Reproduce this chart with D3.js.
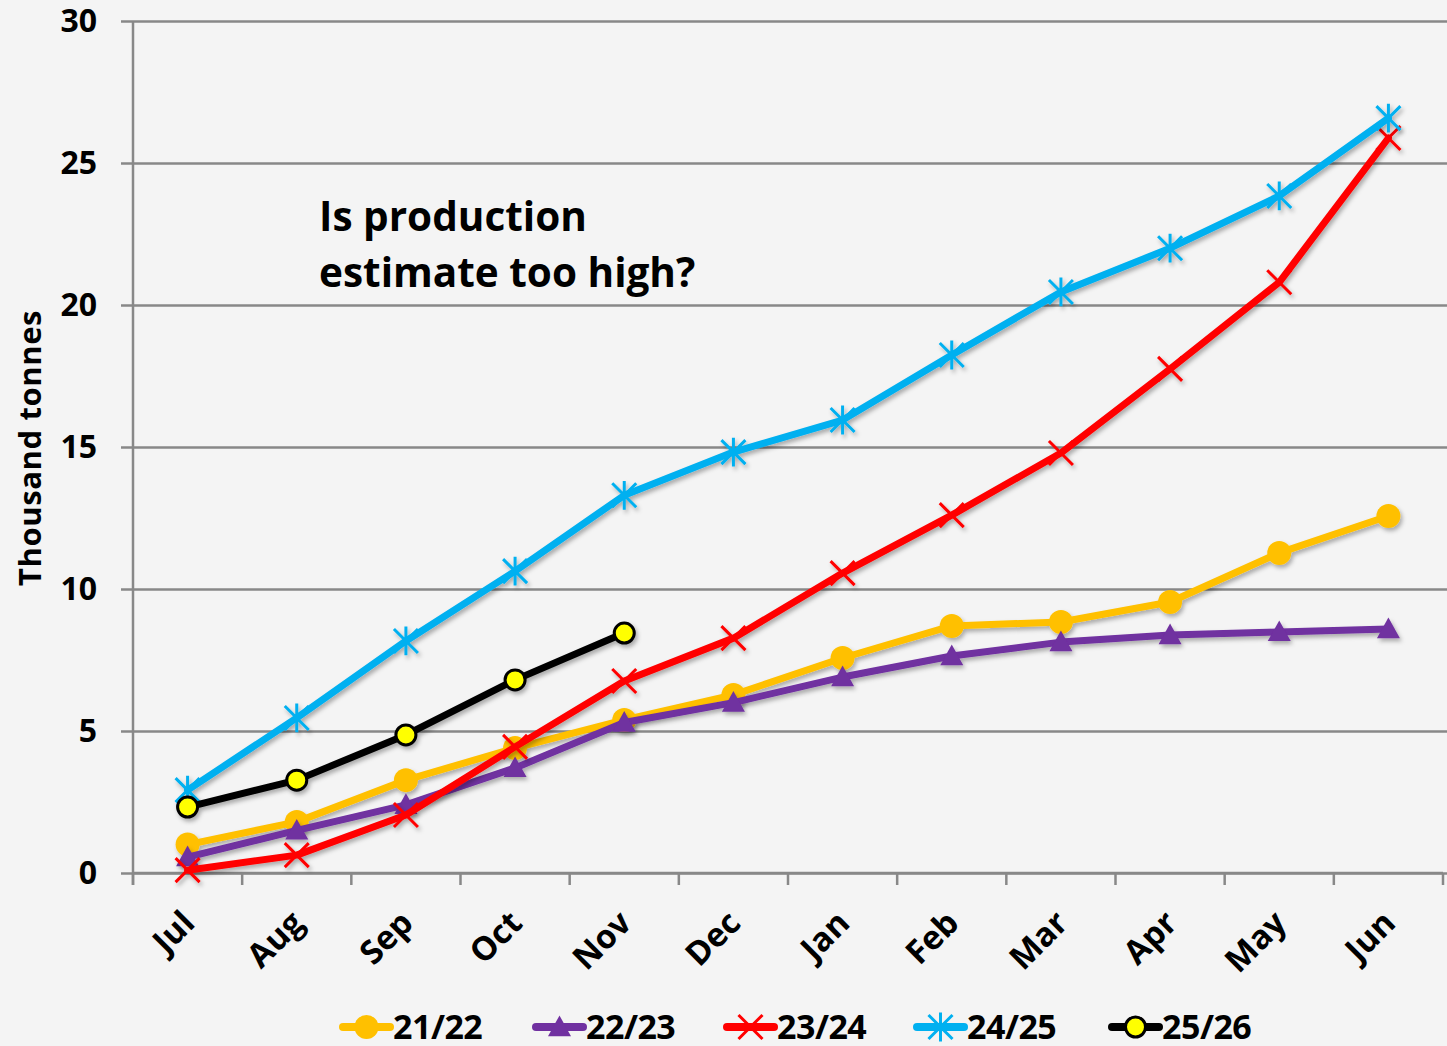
<!DOCTYPE html>
<html>
<head>
<meta charset="utf-8">
<script src="https://cdn.jsdelivr.net/npm/d3@7"></script>
<style>
  html, body { margin: 0; padding: 0; background: #f4f4f4; }
  svg { display: block; }
</style>
</head>
<body>
<svg id="chart" width="1447" height="1046"></svg>
<script>
// Monthly cumulative production (thousand tonnes) by season
const months = ["Jul","Aug","Sep","Oct","Nov","Dec","Jan","Feb","Mar","Apr","May","Jun"];
const yTicks = [0, 5, 10, 15, 20, 25, 30];
const seasons = ["21/22", "22/23", "23/24", "24/25", "25/26"];

const s2122 = [1.0, 1.8, 3.27, 4.4, 5.39, 6.27, 7.57, 8.7, 8.84, 9.54, 11.27, 12.57];
const s2223 = [0.56, 1.5, 2.4, 3.7, 5.3, 6.0, 6.9, 7.64, 8.13, 8.38, 8.49, 8.59];
const s2324 = [0.1, 0.63, 2.04, 4.44, 6.76, 8.27, 10.56, 12.6, 14.79, 17.75, 20.8, 25.88];
const s2425 = [2.92, 5.46, 8.17, 10.63, 13.3, 14.82, 15.95, 18.24, 20.46, 22.0, 23.84, 26.58];
const s2526 = [2.32, 3.27, 4.86, 6.8, 8.45];

const series = [
  { name: seasons[0], values: s2122, color: "#FFC000", marker: "circle" },
  { name: seasons[1], values: s2223, color: "#7030A0", marker: "triangle" },
  { name: seasons[2], values: s2324, color: "#FF0000", marker: "x" },
  { name: seasons[3], values: s2425, color: "#00B0F0", marker: "star" },
  { name: seasons[4], values: s2526, color: "#000000", marker: "dot" }
];

const svg = d3.select("#chart");
const plotLeft = 133, plotRight = 1443, plotTop = 21, plotBottom = 873;
const font = "'Open Sans', 'Liberation Sans', sans-serif";

const x = d3.scaleBand().domain(months).range([plotLeft, plotRight]).padding(0);
const y = d3.scaleLinear().domain([0, 30]).range([plotBottom, plotTop]);

// soft shadow under the lines and markers
const defs = svg.append("defs");
const f = defs.append("filter").attr("id", "shadow")
  .attr("x", "-20%").attr("y", "-20%").attr("width", "140%").attr("height", "140%");
f.append("feDropShadow").attr("dx", 2).attr("dy", 3).attr("stdDeviation", 2)
  .attr("flood-color", "#000").attr("flood-opacity", 0.3);

// horizontal gridlines + y axis
const yAxis = d3.axisLeft(y).tickValues(yTicks).tickSize(-(plotRight - plotLeft) - 4).tickPadding(36);
const gy = svg.append("g").attr("transform", `translate(${plotLeft},0)`).call(yAxis);
gy.select(".domain").remove();
gy.selectAll(".tick line").attr("stroke", "#888").attr("stroke-width", 2.5).attr("x1", -12);
gy.selectAll(".tick text").attr("font-family", font).attr("font-weight", 700)
  .attr("font-size", 32).attr("fill", "#000");

// vertical axis line
svg.append("line").attr("x1", plotLeft).attr("x2", plotLeft).attr("y1", plotTop).attr("y2", plotBottom + 12)
  .attr("stroke", "#888").attr("stroke-width", 2.5);

// x axis with ticks between categories
const gx = svg.append("g").attr("transform", `translate(0,${plotBottom})`);
gx.append("line").attr("x1", plotLeft).attr("x2", plotRight).attr("stroke", "#888").attr("stroke-width", 2.5);
const boundaries = months.map(m => x(m)).concat([plotRight]);
gx.selectAll("line.tk").data(boundaries).enter().append("line").attr("class", "tk")
  .attr("x1", d => d).attr("x2", d => d).attr("y1", 0).attr("y2", 12)
  .attr("stroke", "#888").attr("stroke-width", 2.5);
gx.selectAll("text").data(months).enter().append("text")
  .attr("transform", d => `translate(${x(d) + x.bandwidth() / 2 + 9},${52}) rotate(-45)`)
  .attr("text-anchor", "end")
  .attr("font-family", font).attr("font-weight", 700).attr("font-size", 33)
  .attr("fill", "#000").text(d => d);

// axis title
svg.append("text").attr("transform", "translate(41,448) rotate(-90)")
  .attr("text-anchor", "middle").attr("font-family", font).attr("font-weight", 700)
  .attr("font-size", 31).attr("letter-spacing", 0.6).attr("fill", "#000").text("Thousand tonnes");

// annotation
const note = svg.append("text").attr("font-family", font).attr("font-weight", 700)
  .attr("font-size", 40.5).attr("fill", "#000");
note.append("tspan").attr("x", 319).attr("y", 231).text("Is production");
note.append("tspan").attr("x", 319).attr("y", 287).text("estimate too high?");

function drawMarker(g, type, color, cx, cy, scale) {
  const s = scale || 1;
  if (type === "circle") {
    g.append("circle").attr("cx", cx).attr("cy", cy).attr("r", 12 * s).attr("fill", color);
  } else if (type === "triangle") {
    const h = 11.5 * s;
    g.append("path").attr("d", `M${cx},${cy - h} L${cx + h},${cy + h * 0.8} L${cx - h},${cy + h * 0.8} Z`)
      .attr("fill", color);
  } else if (type === "x") {
    const h = 12 * s;
    g.append("path").attr("d", `M${cx - h},${cy - h} L${cx + h},${cy + h} M${cx - h},${cy + h} L${cx + h},${cy - h}`)
      .attr("stroke", color).attr("stroke-width", 3);
  } else if (type === "star") {
    const h = 12 * s;
    g.append("path").attr("d", `M${cx - h},${cy - h} L${cx + h},${cy + h} M${cx - h},${cy + h} L${cx + h},${cy - h} M${cx},${cy - h * 1.2} L${cx},${cy + h * 1.2}`)
      .attr("stroke", color).attr("stroke-width", 3);
  } else if (type === "dot") {
    g.append("circle").attr("cx", cx).attr("cy", cy).attr("r", 10 * s)
      .attr("fill", "#FFFF00").attr("stroke", "#000").attr("stroke-width", 3);
  }
}

const line = d3.line().x((d, i) => x(months[i]) + x.bandwidth() / 2).y(d => y(d));

series.forEach(s => {
  const g = svg.append("g").attr("filter", "url(#shadow)");
  g.append("path").datum(s.values).attr("d", line)
    .attr("fill", "none").attr("stroke", s.color).attr("stroke-width", 7)
    .attr("stroke-linejoin", "round").attr("stroke-linecap", "round");
  s.values.forEach((v, i) => {
    drawMarker(g, s.marker, s.color, x(months[i]) + x.bandwidth() / 2, y(v));
  });
});

// legend
const legendX = [343, 536, 727, 917, 1112];
const ly = 1027;
series.forEach((s, i) => {
  const g = svg.append("g");
  const x0 = legendX[i];
  g.append("line").attr("x1", x0).attr("x2", x0 + 47).attr("y1", ly).attr("y2", ly)
    .attr("stroke", s.color).attr("stroke-width", 8).attr("stroke-linecap", "round");
  drawMarker(g, s.marker, s.color, x0 + 23.5, ly, 1);
  g.append("text").attr("x", x0 + 50).attr("y", 1039)
    .attr("font-family", font)
    .attr("font-weight", 700).attr("font-size", 34).attr("letter-spacing", -0.5)
    .attr("fill", "#000").text(s.name);
});
</script>
</body>
</html>
